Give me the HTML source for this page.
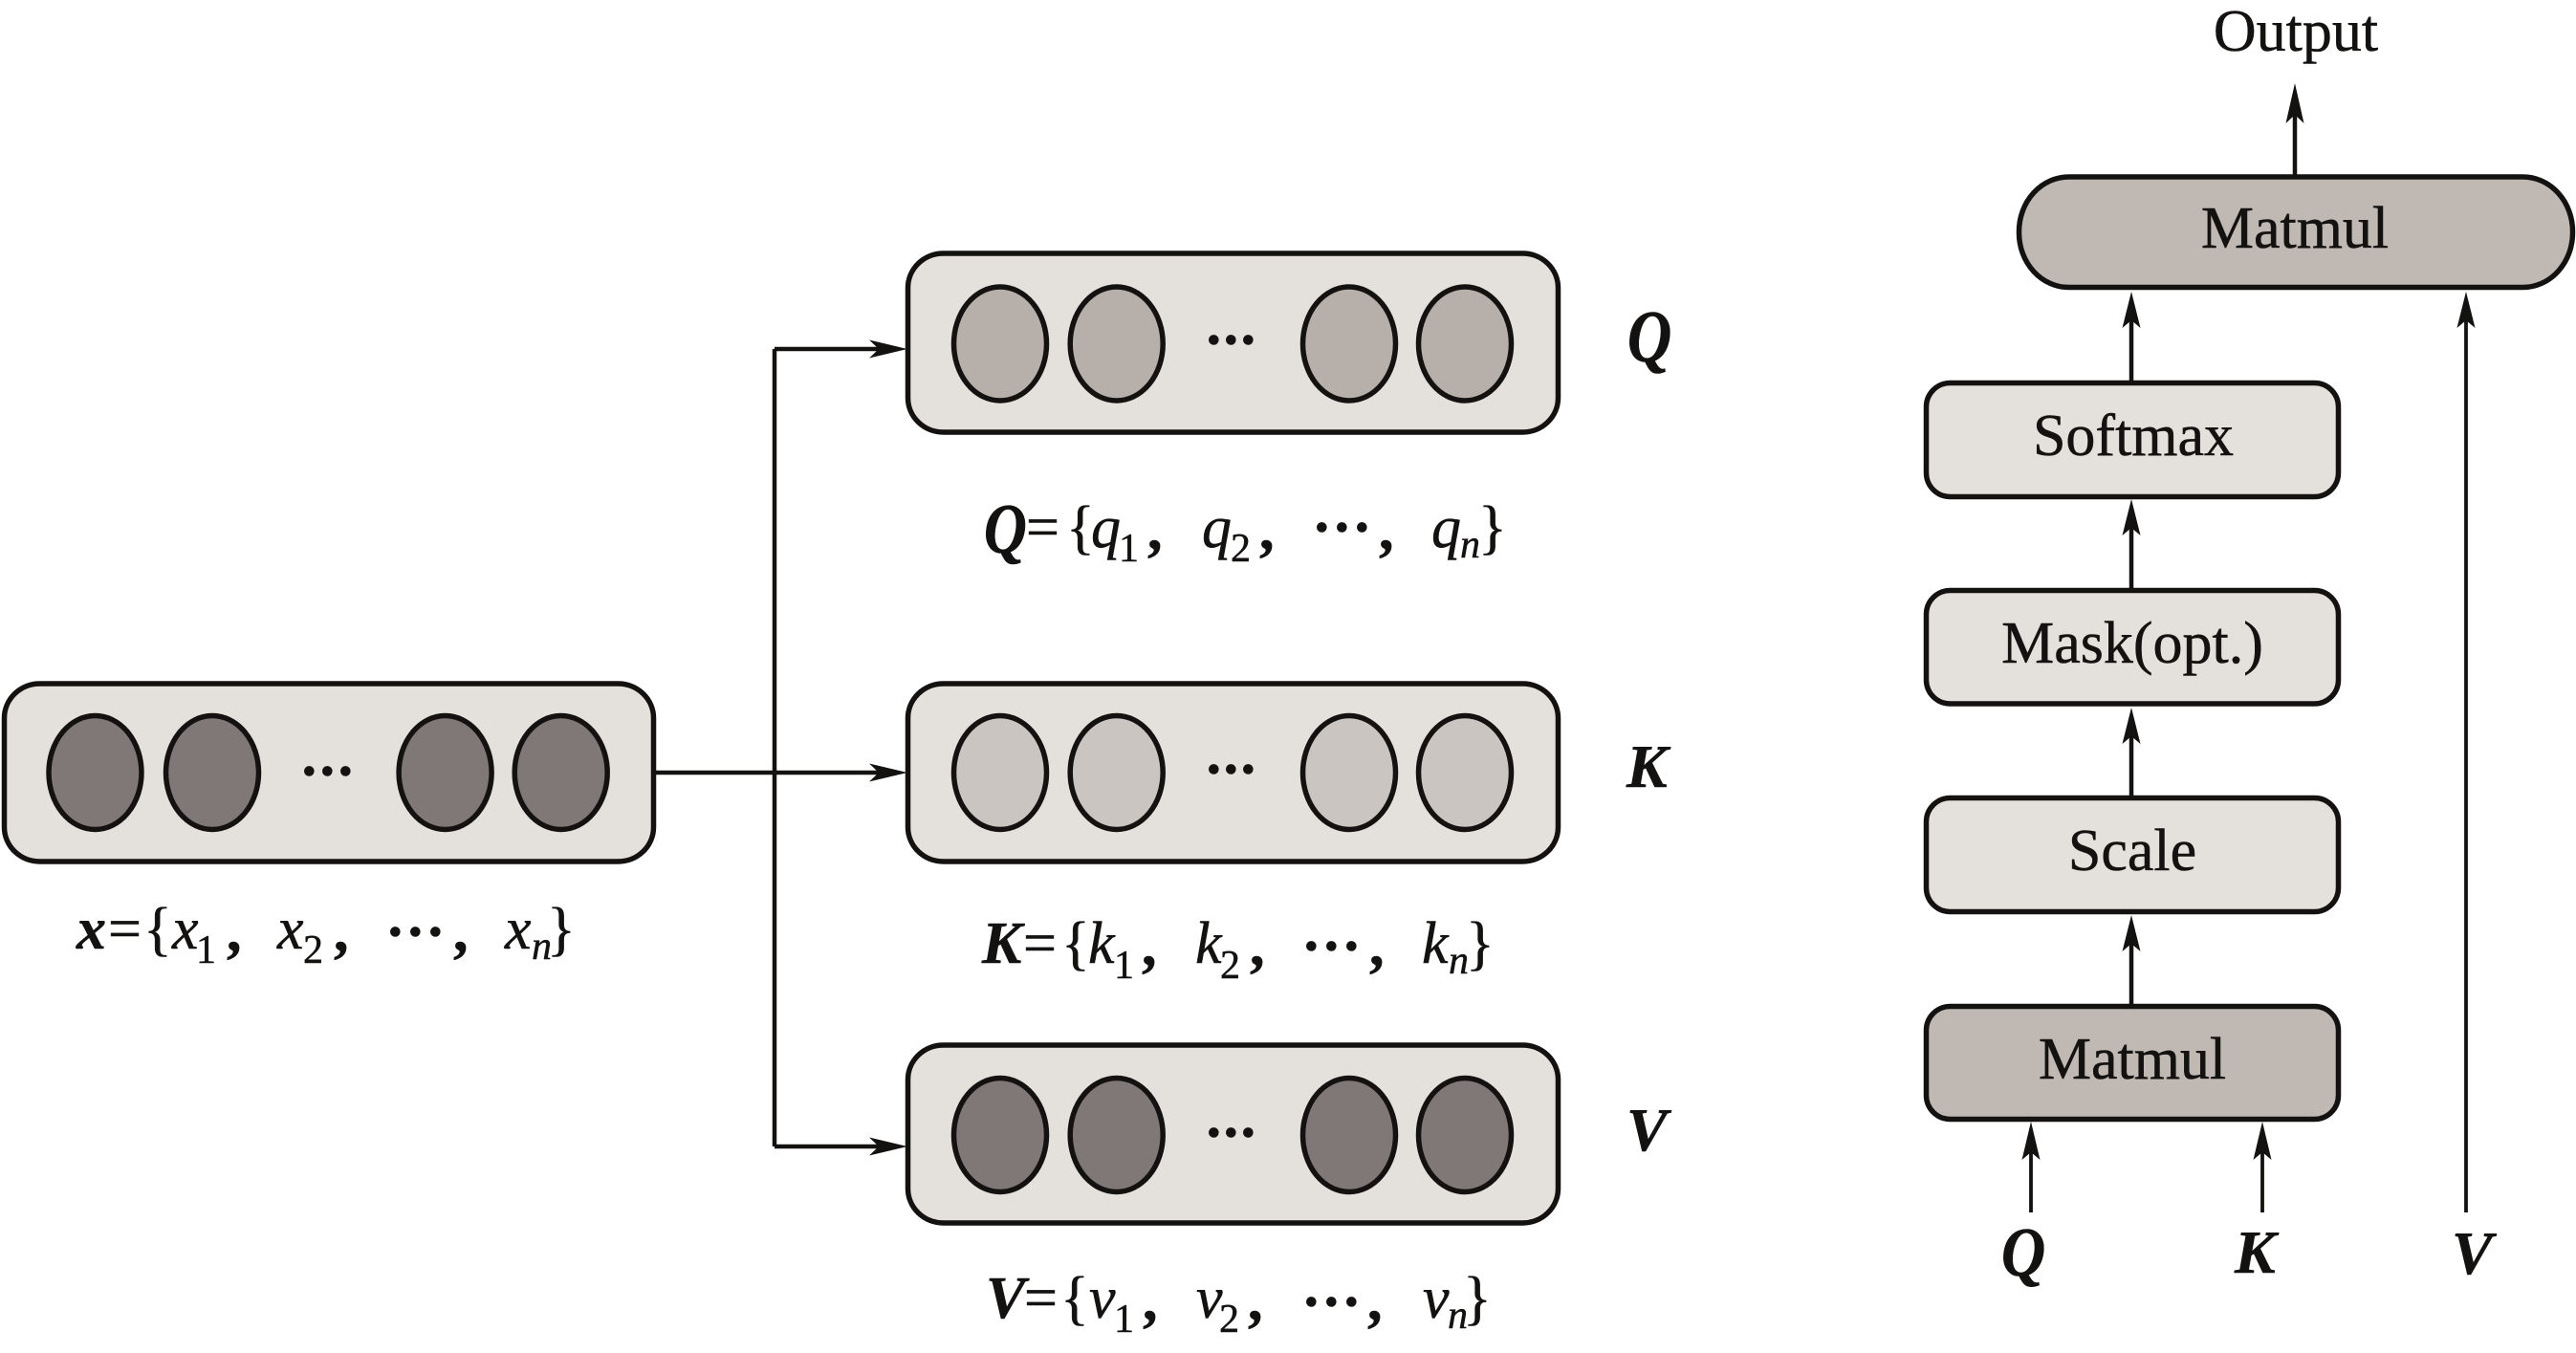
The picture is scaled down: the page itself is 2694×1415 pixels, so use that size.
<!DOCTYPE html>
<html><head><meta charset="utf-8"><style>
html,body{margin:0;padding:0;background:#fff}
svg{display:block}
text{font-family:"Liberation Serif",serif;fill:#141211;font-size:62px;stroke:#141211;stroke-width:.5}
.i{font-style:italic}
.bi{font-style:italic;font-weight:bold}
.s{font-size:42px}
.si{font-size:42px;font-style:italic}
.c{font-weight:bold}
.a{text-anchor:middle}
.big{font-size:64px;font-style:italic;font-weight:bold}
.b{fill:#e4e0dc;stroke:#141211;stroke-width:5.5}
.e{stroke:#141211;stroke-width:5.5}
.l{stroke:#141211;stroke-width:4.5;fill:none}
.h{fill:#141211}
</style></head><body>
<svg width="2694" height="1415" viewBox="0 0 2694 1415" xmlns="http://www.w3.org/2000/svg">
<rect width="2694" height="1415" fill="#fff"/>

<!-- connectors left -->
<path class="l" d="M686 808H925M810 365V1199M810 365H925M810 1199H925"/>
<polygon class="h" points="949,365 909,355.5 919,365 909,374.5"/>
<polygon class="h" points="949,808 909,798.5 919,808 909,817.5"/>
<polygon class="h" points="949,1199 909,1189.5 919,1199 909,1208.5"/>

<!-- x box -->
<rect class="b" x="4.5" y="715" width="679" height="186" rx="37" ry="36"/>
<g class="e" fill="#807876">
<ellipse cx="99.5" cy="808" rx="48.5" ry="59.5"/><ellipse cx="222" cy="808" rx="48.5" ry="59.5"/>
<ellipse cx="465.6" cy="808" rx="48.5" ry="59.5"/><ellipse cx="586.7" cy="808" rx="48.5" ry="59.5"/>
</g>
<text class="c" x="313 332 351" y="827">···</text>

<!-- Q box -->
<rect class="b" x="949.5" y="265" width="680" height="187" rx="37" ry="36"/>
<g class="e" fill="#b7afaa">
<ellipse cx="1046" cy="359.5" rx="48.5" ry="59.5"/><ellipse cx="1167.7" cy="359.5" rx="48.5" ry="59.5"/>
<ellipse cx="1411" cy="359.5" rx="48.5" ry="59.5"/><ellipse cx="1532" cy="359.5" rx="48.5" ry="59.5"/>
</g>
<text class="c" x="1259 1277 1295" y="376">···</text>

<!-- K box -->
<rect class="b" x="949.5" y="715" width="680" height="186" rx="37" ry="36"/>
<g class="e" fill="#cbc5c2">
<ellipse cx="1046" cy="808" rx="48.5" ry="59.5"/><ellipse cx="1167.7" cy="808" rx="48.5" ry="59.5"/>
<ellipse cx="1411" cy="808" rx="48.5" ry="59.5"/><ellipse cx="1532" cy="808" rx="48.5" ry="59.5"/>
</g>
<text class="c" x="1259 1277 1295" y="825">···</text>

<!-- V box -->
<rect class="b" x="949.5" y="1093" width="680" height="186" rx="37" ry="36"/>
<g class="e" fill="#807876">
<ellipse cx="1046" cy="1187" rx="48.5" ry="59.5"/><ellipse cx="1167.7" cy="1187" rx="48.5" ry="59.5"/>
<ellipse cx="1411" cy="1187" rx="48.5" ry="59.5"/><ellipse cx="1532" cy="1187" rx="48.5" ry="59.5"/>
</g>
<text class="c" x="1259 1277 1295" y="1205">···</text>

<!-- side labels -->
<text class="big" transform="translate(1702,378) scale(1,1.2)">Q</text>
<text class="big" x="1701" y="823">K</text>
<text class="big" x="1701" y="1203">V</text>

<!-- x formula -->
<text class="bi" x="80" y="992">x</text><text x="113" y="992">=</text><text x="150" y="992">{</text>
<text class="i" x="180" y="992">x</text><text class="s" x="205" y="1007">1</text><text class="c" x="237" y="994">,</text>
<text class="i" x="290" y="992">x</text><text class="s" x="317" y="1007">2</text><text class="c" x="349" y="994">,</text>
<text class="c" x="403 424 445" y="995">···</text><text class="c" x="474" y="994">,</text>
<text class="i" x="528" y="992">x</text><text class="si" x="556" y="1003">n</text><text x="572" y="992">}</text>

<!-- Q formula -->
<text class="bi" transform="translate(1029,578) scale(1,1.2)">Q</text><text x="1073" y="572">=</text><text x="1115" y="572">{</text>
<text class="i" x="1141" y="572">q</text><text class="s" x="1170" y="587">1</text><text class="c" x="1200" y="574">,</text>
<text class="i" x="1257" y="572">q</text><text class="s" x="1287" y="587">2</text><text class="c" x="1317" y="574">,</text>
<text class="c" x="1372 1393 1414" y="572">···</text><text class="c" x="1442" y="574">,</text>
<text class="i" x="1497" y="572">q</text><text class="si" x="1527" y="583">n</text><text x="1546" y="572">}</text>

<!-- K formula -->
<text class="bi" x="1027" y="1007">K</text><text x="1070" y="1007">=</text><text x="1110" y="1007">{</text>
<text class="i" x="1138" y="1007">k</text><text class="s" x="1165" y="1023">1</text><text class="c" x="1194" y="1009">,</text>
<text class="i" x="1250" y="1007">k</text><text class="s" x="1276" y="1023">2</text><text class="c" x="1307" y="1009">,</text>
<text class="c" x="1361 1382 1403" y="1010">···</text><text class="c" x="1432" y="1009">,</text>
<text class="i" x="1487" y="1007">k</text><text class="si" x="1515" y="1018">n</text><text x="1533" y="1007">}</text>

<!-- V formula -->
<text class="bi" x="1031" y="1378">V</text><text x="1071" y="1378">=</text><text x="1109" y="1378">{</text>
<text class="i" x="1139" y="1378">v</text><text class="s" x="1165" y="1393">1</text><text class="c" x="1195" y="1380">,</text>
<text class="i" x="1251" y="1378">v</text><text class="s" x="1275" y="1393">2</text><text class="c" x="1305" y="1380">,</text>
<text class="c" x="1361 1382 1403" y="1382">···</text><text class="c" x="1430" y="1380">,</text>
<text class="i" x="1488" y="1378">v</text><text class="si" x="1514" y="1389">n</text><text x="1530" y="1378">}</text>

<!-- right diagram lines -->
<path class="l" d="M2400 184V115M2229 398V335M2229 616V552M2229 833V770M2229 1050V987"/>
<path class="l" style="stroke-width:3.8" d="M2579 1268V335M2124 1268V1205M2366 1268V1205"/>
<polygon class="h" points="2400,87 2409.5,129 2400,120 2390.5,129"/>
<polygon class="h" points="2229,305 2238.5,343 2229,335 2219.5,343"/>
<polygon class="h" points="2579,305 2588.5,343 2579,335 2569.5,343"/>
<polygon class="h" points="2229,522 2238.5,560 2229,552 2219.5,560"/>
<polygon class="h" points="2229,740 2238.5,778 2229,770 2219.5,778"/>
<polygon class="h" points="2229,957 2238.5,995 2229,987 2219.5,995"/>
<polygon class="h" points="2124,1173 2133.5,1213 2124,1205 2114.5,1213"/>
<polygon class="h" points="2366,1173 2375.5,1213 2366,1205 2356.5,1213"/>

<!-- right diagram boxes -->
<rect x="2111.5" y="185" width="579" height="115.5" rx="52" ry="57" fill="#bfb8b3" stroke="#141211" stroke-width="5.5"/>
<rect class="b" x="2014.5" y="400.5" width="431" height="119" rx="25" ry="25"/>
<rect class="b" x="2014.5" y="617.5" width="431" height="118.5" rx="25" ry="25"/>
<rect class="b" x="2014.5" y="834.5" width="431" height="119" rx="25" ry="25"/>
<rect x="2014.5" y="1052.5" width="431" height="118" rx="25" ry="25" fill="#bfb8b3" stroke="#141211" stroke-width="5.5"/>

<text class="a" x="2401" y="53">Output</text>
<text class="a" x="2400" y="259">Matmul</text>
<text class="a" x="2231" y="476">Softmax</text>
<text class="a" x="2230" y="693">Mask(opt.)</text>
<text class="a" x="2230" y="910">Scale</text>
<text class="a" x="2230" y="1128">Matmul</text>
<text class="big" transform="translate(2093,1334) scale(1,1.15)">Q</text>
<text class="big" x="2337" y="1331">K</text>
<text class="big" x="2564" y="1332">V</text>
</svg>
</body></html>
